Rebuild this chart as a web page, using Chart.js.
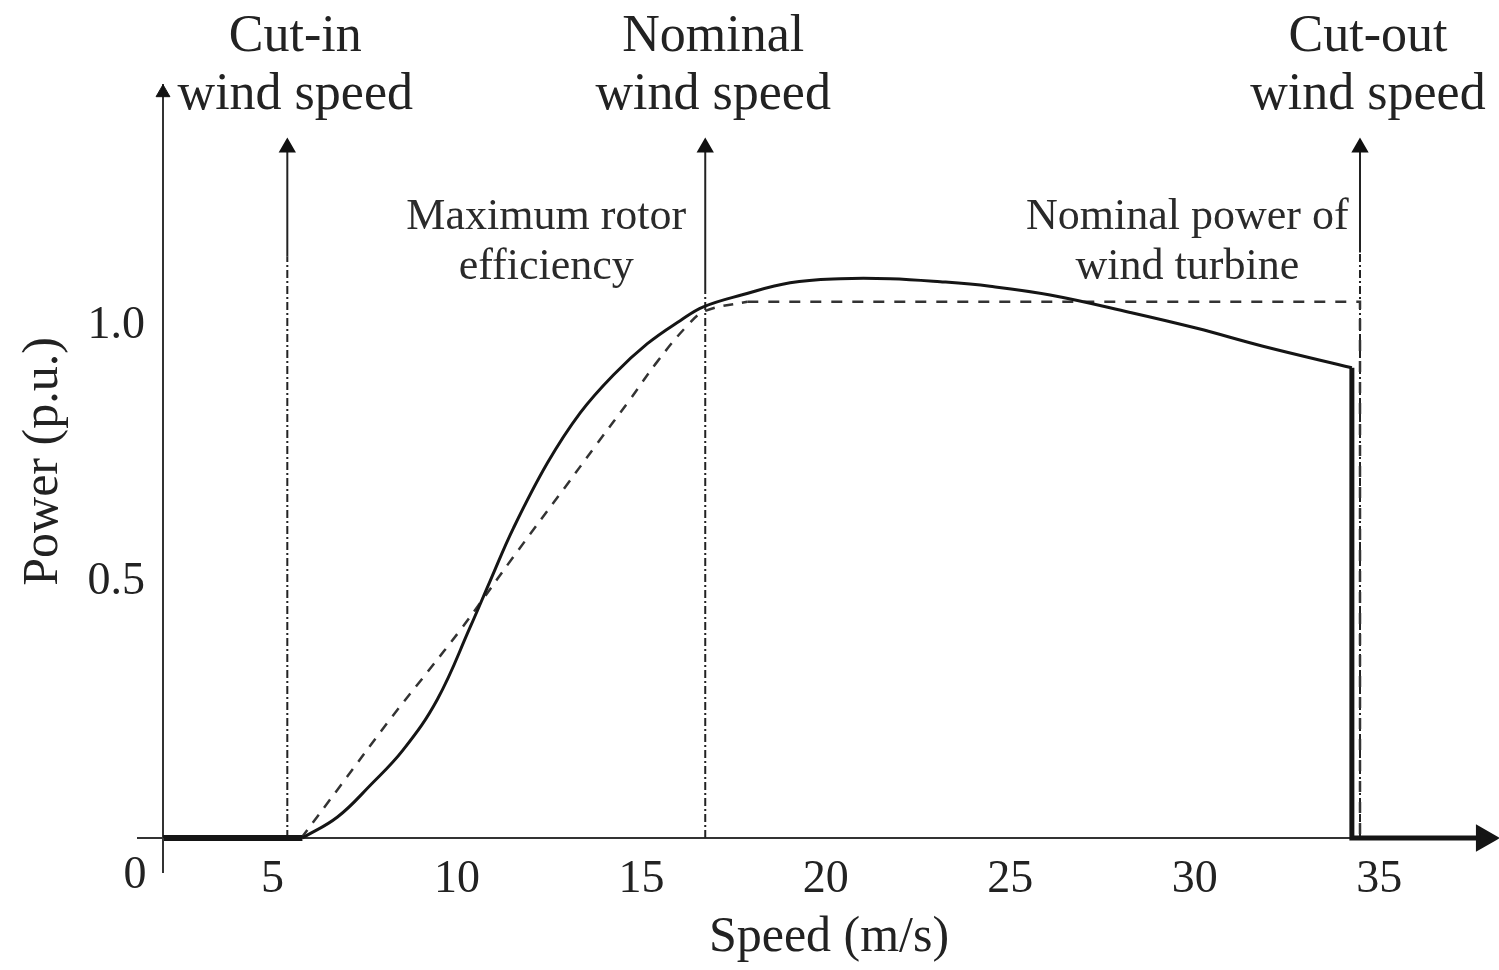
<!DOCTYPE html>
<html>
<head>
<meta charset="utf-8">
<script src="https://cdn.jsdelivr.net/npm/chart.js@4.4.1/dist/chart.umd.min.js"></script>
<style>
html, body { margin: 0; padding: 0; background: #fff; }
</style>
</head>
<body>
<canvas id="chart" width="1499" height="970"></canvas>
<script>
// turbine power curve (solid line)
const curveSpeed = [5.81, 6.76, 7.65, 8.54, 9.47, 10.36, 10.90, 11.53, 12.45, 13.34, 14.24, 15.16, 16.05, 16.68, 17.76, 19.03, 20.39, 21.74, 23.10, 24.45, 26.08, 28.25, 30.06, 31.85, 34.26];
const curvePower = [0, 0.041, 0.103, 0.172, 0.271, 0.412, 0.502, 0.605, 0.732, 0.830, 0.904, 0.965, 1.010, 1.037, 1.061, 1.084, 1.092, 1.092, 1.086, 1.077, 1.060, 1.026, 0.995, 0.960, 0.918];

// maximum rotor efficiency (dashed)
const effSpeed = [5.78, 6.84, 8.19, 9.20, 10.09, 10.63, 11.53, 12.88, 13.80, 14.70, 15.43, 16.24, 16.73, 17.87];
const effPower = [0, 0.102, 0.232, 0.324, 0.406, 0.459, 0.549, 0.680, 0.770, 0.857, 0.930, 1.000, 1.029, 1.047];

// nominal power plateau, then dropped at cut-out (dashed)
const plateauSpeed = [17.87, 34.48, 34.48];
const plateauPower = [1.047, 1.047, 0];

// zero output below cut-in and after cut-out (thick)
const idleLowSpeed = [2.03, 5.81];
const idleLowPower = [0, 0];
const idleHighSpeed = [34.26, 34.26, 37.84];
const idleHighPower = [0.918, 0, 0];

// characteristic speeds with their labels
const markerSpeed = [5.40, 16.73, 34.48];
const markerBreak = [1.135, 1.064, 1.143];
const markerTop = 1.348;
const markerLabels = [['Cut-in', 'wind speed'], ['Nominal', 'wind speed'], ['Cut-out', 'wind speed']];

const xTicks = [5, 10, 15, 20, 25, 30, 35];
const yTicks = [0.5, 1.0];
const xMin = 2.03, xMax = 38.14;
const yMin = 0, yMax = 1.47;

const serif = '"Liberation Serif", "DejaVu Serif", serif';
const ink = '#151515';
const textInk = '#222';

function pts(xs, ys) {
    return xs.map((x, i) => ({ x: x, y: ys[i] }));
}

const datasets = [];

datasets.push({
    label: 'idle low',
    data: pts(idleLowSpeed, idleLowPower),
    borderColor: ink, borderWidth: 6, pointRadius: 0, tension: 0
});
datasets.push({
    label: 'idle high',
    data: pts(idleHighSpeed, idleHighPower),
    borderColor: ink, borderWidth: 5,
    pointRadius: [0, 0, 11], pointStyle: 'triangle', rotation: 90,
    pointBackgroundColor: ink, pointBorderColor: ink, tension: 0
});
datasets.push({
    label: 'power curve',
    data: pts(curveSpeed, curvePower),
    borderColor: ink, borderWidth: 3, pointRadius: 0,
    tension: 0.4
});
datasets.push({
    label: 'max efficiency',
    data: pts(effSpeed, effPower),
    borderColor: '#333', borderWidth: 2.5, borderDash: [10, 9], pointRadius: 0,
    tension: 0.4
});
datasets.push({
    label: 'plateau',
    data: pts(plateauSpeed, plateauPower),
    borderColor: '#333', borderWidth: 2.5, borderDash: [11, 10], pointRadius: 0, tension: 0
});

markerSpeed.forEach((s, i) => {
    datasets.push({
        label: 'marker low ' + i,
        data: [{ x: s, y: 0 }, { x: s, y: markerBreak[i] }],
        borderColor: '#222', borderWidth: 2, borderDash: [8, 3, 2, 3], pointRadius: 0, tension: 0
    });
    datasets.push({
        label: 'marker top ' + i,
        data: [{ x: s, y: markerBreak[i] }, { x: s, y: markerTop }],
        borderColor: '#222', borderWidth: 2,
        pointRadius: [0, 8], pointStyle: 'triangle', rotation: 0,
        pointBackgroundColor: '#111', pointBorderColor: '#111', tension: 0
    });
});

// y-axis arrow head
datasets.push({
    label: 'y arrow',
    data: [{ x: xMin, y: 1.455 }],
    showLine: false, pointRadius: 8, pointStyle: 'triangle', rotation: 0,
    pointBackgroundColor: '#111', pointBorderColor: '#111'
});

datasets.forEach(d => { d.clip = false; d.fill = false; });

const annotations = {
    id: 'annotations',
    afterDraw(chart) {
        const ctx = chart.ctx;
        const xs = chart.scales.x, ys = chart.scales.y;
        const area = chart.chartArea;
        ctx.save();

        // short axis stubs past the origin
        ctx.strokeStyle = '#333';
        ctx.lineWidth = 2;
        ctx.beginPath();
        ctx.moveTo(area.left - 26, area.bottom);
        ctx.lineTo(area.left, area.bottom);
        ctx.moveTo(area.left, area.bottom);
        ctx.lineTo(area.left, area.bottom + 35);
        ctx.stroke();

        ctx.fillStyle = textInk;
        ctx.textAlign = 'center';
        ctx.textBaseline = 'middle';

        ctx.font = '52px ' + serif;
        markerLabels.forEach((lines, i) => {
            const cx = xs.getPixelForValue(markerSpeed[i]) + 8;
            ctx.fillText(lines[0], cx, area.top - 48);
            ctx.fillText(lines[1], cx, area.top + 10);
        });

        ctx.font = '44px ' + serif;
        ctx.fillStyle = '#2a2a2a';
        const notes = [
            { x: 12.42, lines: ['Maximum rotor', 'efficiency'] },
            { x: 29.8, lines: ['Nominal power of', 'wind turbine'] }
        ];
        notes.forEach(n => {
            const cx = xs.getPixelForValue(n.x);
            ctx.fillText(n.lines[0], cx, ys.getPixelForValue(1.211));
            ctx.fillText(n.lines[1], cx, ys.getPixelForValue(1.113));
        });

        // origin label
        ctx.font = '46px ' + serif;
        ctx.fillStyle = textInk;
        ctx.fillText('0', xs.getPixelForValue(xMin) - 28, ys.getPixelForValue(0) + 38);
        ctx.restore();
    }
};

new Chart(document.getElementById('chart'), {
    type: 'line',
    data: { datasets: datasets },
    options: {
        responsive: false,
        animation: false,
        layout: { autoPadding: false, padding: { top: 85, right: 4, left: 0, bottom: 0 } },
        plugins: { legend: { display: false }, tooltip: { enabled: false } },
        scales: {
            x: {
                type: 'linear', min: xMin, max: xMax,
                grid: { display: false, drawTicks: false },
                border: { display: true, color: '#333', width: 2 },
                afterBuildTicks: s => { s.ticks = xTicks.map(v => ({ value: v })); },
                afterFit: s => { s.height = 132; },
                ticks: { font: { family: serif, size: 46 }, color: textInk, padding: 14, maxRotation: 0 },
                title: { display: true, text: 'Speed (m/s)', color: textInk,
                         font: { family: serif, size: 50 }, padding: { top: 0, bottom: 2 } }
            },
            y: {
                type: 'linear', min: yMin, max: yMax,
                grid: { display: false, drawTicks: false },
                border: { display: true, color: '#333', width: 2 },
                afterBuildTicks: s => { s.ticks = yTicks.map(v => ({ value: v })); },
                afterFit: s => { s.width = 163; },
                ticks: { font: { family: serif, size: 46 }, color: textInk, padding: 18,
                         callback: v => v.toFixed(1) },
                title: { display: true, text: 'Power (p.u.)', color: textInk,
                         font: { family: serif, size: 50 }, padding: { top: 14, bottom: 0 } }
            }
        }
    },
    plugins: [annotations]
});
</script>
</body>
</html>
